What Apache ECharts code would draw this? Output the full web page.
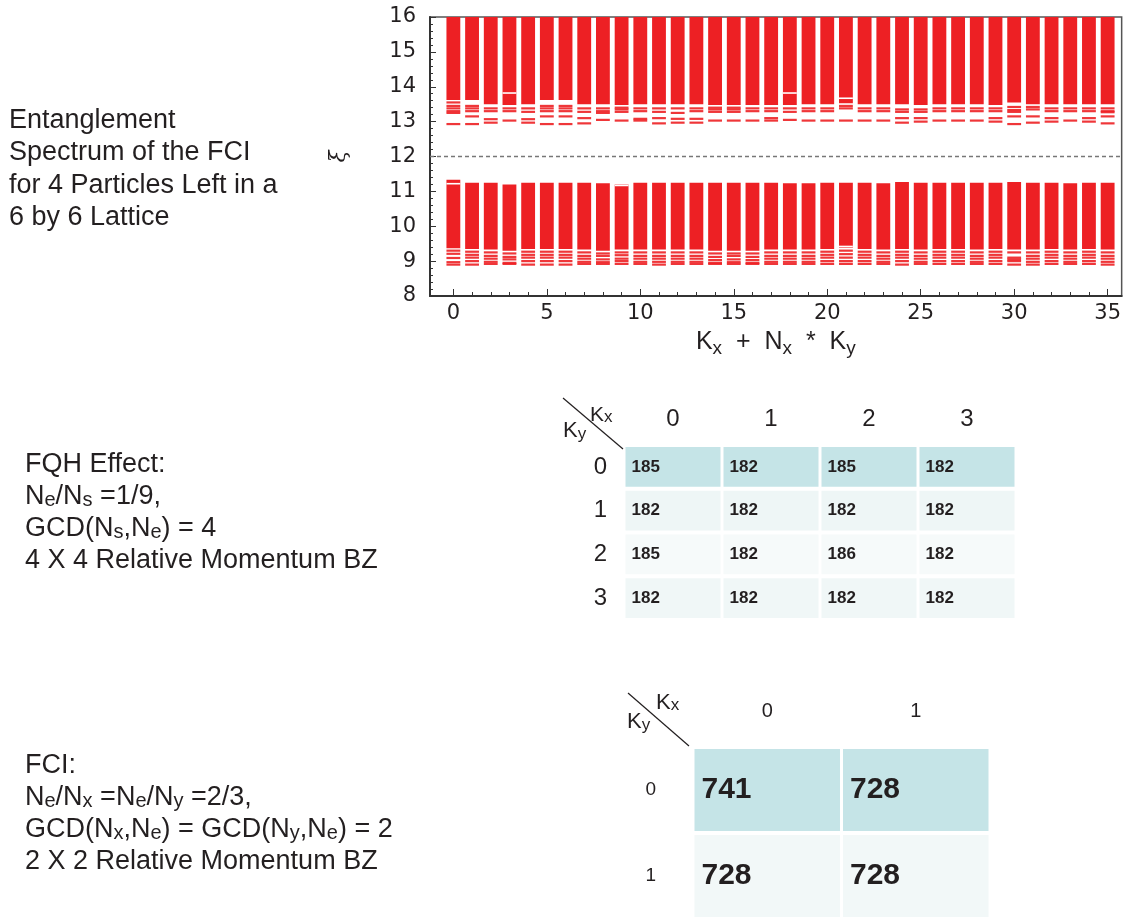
<!DOCTYPE html>
<html><head><meta charset="utf-8">
<script src="https://cdn.jsdelivr.net/npm/echarts@6/dist/echarts.min.js"></script>
<style>html,body{margin:0;padding:0;background:#fff}#c{width:1124px;height:919px}</style>
</head><body><div id="c"></div>
<script>
// ---------- Entanglement spectrum data ----------
const momentum = [0,1,2,3,4,5,6,7,8,9,10,11,12,13,14,15,16,17,18,19,20,21,22,23,24,25,26,27,28,29,30,31,32,33,34,35];
const spectrumCeiling = 16;
const upperBlockBottom = [13.62,13.62,13.5,13.48,13.5,13.62,13.62,13.5,13.5,13.48,13.5,13.5,13.5,13.5,13.48,13.48,13.48,13.48,13.48,13.5,13.5,13.53,13.5,13.5,13.5,13.48,13.5,13.5,13.5,13.48,13.55,13.5,13.5,13.5,13.5,13.5];
const upperLevels = [
  [13.55,13.45,13.38,13.3,13.25,12.93],[13.45,13.38,13.3,13.15,12.93],[13.38,13.3,13.07,12.97],[13.38,13.3,13.03],
  [13.38,13.28,13.07,12.97],[13.45,13.38,13.3,13.15,12.93],[13.45,13.38,13.3,13.15,12.93],[13.38,13.28,13.1,12.95],
  [13.38,13.3,13.25,13.05],[13.4,13.35,13.28,13.03],[13.38,13.3,13.08,13.03],[13.38,13.28,13.1,12.95],
  [13.38,13.25,13.08,12.97],[13.38,13.3,13.08,12.97],[13.4,13.35,13.28,13.03],[13.4,13.35,13.28,13.03],
  [13.38,13.3,13.03],[13.38,13.3,13.1,13.03],[13.38,13.28,13.05],[13.38,13.3,13.03],
  [13.38,13.3,13.03],[13.45,13.38,13.03],[13.38,13.3,13.03],[13.38,13.3,13.03],
  [13.35,13.28,13.1,12.97],[13.35,13.28,13.1,13.0],[13.38,13.3,13.03],[13.38,13.3,13.03],
  [13.38,13.3,13.03],[13.38,13.3,13.1,13.0],[13.42,13.33,13.28,13.15,12.93],[13.42,13.35,13.15,12.97],
  [13.38,13.3,13.1,13.0],[13.38,13.3,13.03],[13.38,13.3,13.1,13.0],[13.38,13.3,13.27,13.15,12.95]
];
const lowerBlockTop = [11.33,11.25,11.25,11.2,11.25,11.25,11.25,11.25,11.23,11.2,11.25,11.25,11.25,11.25,11.25,11.25,11.25,11.25,11.23,11.23,11.25,11.25,11.25,11.23,11.27,11.25,11.25,11.25,11.25,11.25,11.27,11.25,11.25,11.23,11.25,11.25];
const lowerBlockBottom = [9.37,9.35,9.33,9.3,9.35,9.35,9.35,9.33,9.3,9.33,9.33,9.33,9.33,9.33,9.3,9.3,9.3,9.33,9.33,9.33,9.35,9.38,9.35,9.33,9.35,9.33,9.35,9.35,9.33,9.35,9.33,9.33,9.35,9.33,9.35,9.33];
const lowerLevels = [
  [9.3,9.21,9.09,8.97,8.9],[9.27,9.18,9.1,9.0,8.9],[9.25,9.15,9.07,8.98,8.92],[9.22,9.12,9.05,8.95,8.92],
  [9.27,9.18,9.1,9.0,8.9],[9.27,9.18,9.1,9.0,8.9],[9.27,9.18,9.1,9.0,8.9],[9.25,9.15,9.07,8.98,8.92],
  [9.22,9.15,9.05,8.97,8.92],[9.25,9.17,9.07,9.0,8.92],[9.25,9.15,9.07,8.98,8.92],[9.25,9.15,9.07,8.98,8.9],
  [9.25,9.15,9.07,8.98,8.92],[9.25,9.15,9.07,8.98,8.92],[9.22,9.12,9.03,8.95,8.92],[9.22,9.15,9.05,8.97,8.92],
  [9.22,9.12,9.03,8.95,8.92],[9.25,9.15,9.07,8.98,8.92],[9.25,9.15,9.07,8.98,8.92],[9.25,9.15,9.07,8.98,8.92],
  [9.27,9.18,9.1,9.0,8.92],[9.3,9.2,9.1,9.0,8.92],[9.27,9.18,9.1,9.0,8.92],[9.25,9.15,9.07,8.98,8.92],
  [9.27,9.18,9.1,9.0,8.9],[9.25,9.15,9.07,8.98,8.92],[9.27,9.18,9.1,9.0,8.92],[9.27,9.18,9.1,9.0,8.92],
  [9.25,9.15,9.07,8.98,8.92],[9.27,9.18,9.1,9.0,8.92],[9.25,9.1,9.05,9.0,8.9],[9.25,9.15,9.07,8.98,8.9],
  [9.27,9.18,9.1,9.0,8.92],[9.25,9.15,9.07,8.98,8.92],[9.27,9.18,9.1,9.0,8.92],[9.25,9.15,9.07,8.98,8.9]
];
const blockGaps = [[3,13.82],[18,13.82],[21,13.67],[0,11.22],[9,11.17],[21,9.42]];
const gapLevel = 12;
const xTickValues = [0,1,2,3,4,5,6,7,8,9,10,11,12,13,14,15,16,17,18,19,20,21,22,23,24,25,26,27,28,29,30,31,32,33,34,35];
const xLabelValues = [0,5,10,15,20,25,30,35];

// ---------- Momentum-sector tables ----------
const fqhCols = ['0','1','2','3'];
const fqhRows = ['0','1','2','3'];
const fqhCounts = [[185,182,185,182],[182,182,182,182],[185,182,186,182],[182,182,182,182]];
const fciCols = ['0','1'];
const fciRows = ['0','1'];
const fciCounts = [[741,728],[728,728]];

// ---------- build ----------
const RED = '#ed2024';
const SANS = '"Liberation Sans", Arial, Helvetica, sans-serif';
const blockData = [];
momentum.forEach((k, i) => {
  blockData.push([k, upperBlockBottom[i], spectrumCeiling]);
  blockData.push([k, lowerBlockBottom[i], lowerBlockTop[i]]);
});
const levelData = [];
momentum.forEach((k, i) => {
  upperLevels[i].forEach(v => levelData.push([k, v]));
  lowerLevels[i].forEach(v => levelData.push([k, v]));
});
function tableData(vals) {
  const out = [];
  vals.forEach((row, r) => row.forEach((v, c) => out.push([c, r, v])));
  return out;
}
function colW(api) { return api.size([1, 0])[0] * 0.74; }

function cellRenderer(fontSize, gapX, gapY, pad, colors) {
  return function (params, api) {
    const c = api.coord([api.value(0), api.value(1)]);
    const s = api.size([1, 1]);
    const row = api.value(1);
    const x0 = c[0] - s[0] / 2 + gapX / 2, y0 = c[1] - s[1] / 2 + gapY / 2;
    return { type: 'group', children: [
      { type: 'rect', shape: { x: x0, y: y0, width: s[0] - gapX, height: s[1] - gapY }, style: { fill: colors[row] } },
      { type: 'text', style: { text: String(api.value(2)), x: x0 + pad, y: c[1], align: 'left', verticalAlign: 'middle',
        font: 'bold ' + fontSize + 'px ' + SANS, fill: '#231f20' } }
    ]};
  };
}

const chart = echarts.init(document.getElementById('c'));
const axisFont = { fontFamily: '"DejaVu Sans", sans-serif', fontSize: 21, color: '#231f20' };
const subRich = {
  k: { fontFamily: SANS, fontSize: 25, color: '#231f20', lineHeight: 32, verticalAlign: 'middle' },
  s: { fontFamily: SANS, fontSize: 19, color: '#231f20', lineHeight: 17, verticalAlign: 'bottom' }
};

chart.setOption({
  animation: false,
  backgroundColor: '#fff',
  grid: [
    { left: 430, top: 17, right: -2, height: 279, show: true, borderColor: '#555', borderWidth: 1.5, backgroundColor: 'transparent' },
    { left: 624, top: 445, width: 392, height: 175 },
    { left: 693, top: 747, width: 297, height: 180 }
  ],
  xAxis: [
    { type: 'value', gridIndex: 0, min: -1.25, max: 35.75, position: 'bottom',
      axisLine: { onZero: false, lineStyle: { color: '#333', width: 2 } },
      axisTick: { inside: true, length: 4, customValues: xTickValues, lineStyle: { color: '#333' } },
      axisLabel: Object.assign({ customValues: xLabelValues, margin: 7 }, axisFont),
      splitLine: { show: false },
      name: '{k|K}{s|x}{k|  +  N}{s|x}{k|  *  K}{s|y}', nameLocation: 'middle', nameGap: 30,
      nameTextStyle: { rich: subRich } },
    { type: 'value', gridIndex: 0, min: -1.25, max: 35.75, position: 'bottom',
      axisLine: { show: false, onZero: false },
      axisTick: { inside: true, length: 7, customValues: xLabelValues, lineStyle: { color: '#333' } },
      axisLabel: { show: false }, splitLine: { show: false } },
    { type: 'category', gridIndex: 1, data: fqhCols, position: 'top',
      axisLine: { show: false }, axisTick: { show: false },
      axisLabel: { fontFamily: SANS, fontSize: 24, color: '#231f20', margin: 14 } },
    { type: 'category', gridIndex: 2, data: fciCols, position: 'top',
      axisLine: { show: false }, axisTick: { show: false },
      axisLabel: { fontFamily: SANS, fontSize: 20, color: '#231f20', margin: 26 } }
  ],
  yAxis: [
    { type: 'value', gridIndex: 0, min: 8, max: 16, interval: 1,
      axisLine: { show: true, onZero: false, lineStyle: { color: '#333', width: 2 } },
      axisTick: { inside: true, length: 6, lineStyle: { color: '#333' } },
      minorTick: { show: true, splitNumber: 5, length: 3, lineStyle: { color: '#333' } },
      axisLabel: Object.assign({ margin: 14 }, axisFont),
      splitLine: { show: false },
      name: 'ξ', nameLocation: 'middle', nameGap: 80, nameRotate: 90,
      nameTextStyle: { fontFamily: '"DejaVu Serif", serif', fontStyle: 'italic', fontSize: 22, color: '#231f20' } },
    { type: 'category', gridIndex: 1, data: fqhRows, inverse: true,
      axisLine: { show: false }, axisTick: { show: false },
      axisLabel: { fontFamily: SANS, fontSize: 24, color: '#231f20', margin: 17 } },
    { type: 'category', gridIndex: 2, data: fciRows, inverse: true,
      axisLine: { show: false }, axisTick: { show: false },
      axisLabel: { fontFamily: SANS, fontSize: 19, color: '#231f20', margin: 37 } }
  ],
  series: [
    { type: 'custom', name: 'blocks', xAxisIndex: 0, yAxisIndex: 0, data: blockData, clip: true,
      encode: { x: 0, y: [1, 2] },
      renderItem: function (params, api) {
        const p1 = api.coord([api.value(0), api.value(2)]);
        const p2 = api.coord([api.value(0), api.value(1)]);
        const w = colW(api);
        return { type: 'rect', shape: { x: p1[0] - w / 2, y: p1[1], width: w, height: p2[1] - p1[1] }, style: { fill: RED } };
      } },
    { type: 'custom', name: 'levels', xAxisIndex: 0, yAxisIndex: 0, data: levelData, clip: true,
      encode: { x: 0, y: 1 },
      renderItem: function (params, api) {
        const p = api.coord([api.value(0), api.value(1)]);
        const w = colW(api);
        return { type: 'rect', shape: { x: p[0] - w / 2, y: p[1] - 1.1, width: w, height: 2.2 }, style: { fill: RED, opacity: 0.9 } };
      } },
    { type: 'custom', name: 'gaps', xAxisIndex: 0, yAxisIndex: 0, data: blockGaps, clip: true,
      encode: { x: 0, y: 1 },
      renderItem: function (params, api) {
        const p = api.coord([api.value(0), api.value(1)]);
        const w = colW(api);
        return { type: 'rect', shape: { x: p[0] - w / 2, y: p[1] - 0.8, width: w, height: 1.6 }, style: { fill: '#fff' } };
      } },
    { type: 'line', name: 'gapLine', xAxisIndex: 0, yAxisIndex: 0, data: [], silent: true,
      markLine: { silent: true, symbol: 'none', label: { show: false },
        lineStyle: { type: [4, 3], color: '#777', width: 1.3 }, data: [{ yAxis: gapLevel }] } },
    { type: 'custom', name: 'fqh', xAxisIndex: 2, yAxisIndex: 1, data: tableData(fqhCounts),
      encode: { x: 0, y: 1 },
      renderItem: cellRenderer(17, 3, 4, 6, ['#c5e4e7', '#eef6f6', '#f6fafa', '#f0f7f7']) },
    { type: 'custom', name: 'fci', xAxisIndex: 3, yAxisIndex: 2, data: tableData(fciCounts),
      encode: { x: 0, y: 1 },
      renderItem: cellRenderer(30, 3, 4, 7, ['#c5e4e7', '#f2f8f8']) }
  ],
  graphic: [
    { type: 'text', left: 9, top: 104, style: { text: 'Entanglement\nSpectrum of the FCI\nfor 4 Particles Left in a\n6 by 6 Lattice',
      font: '27px ' + SANS, lineHeight: 32.5, fill: '#231f20' } },
    { type: 'text', left: 25, top: 451, style: {
      text: '{t|FQH Effect:}\n{t|N}{s|e}{t|/N}{s|s}{t| =1/9,}\n{t|GCD(N}{s|s}{t|,N}{s|e}{t|) = 4}\n{t|4 X 4 Relative Momentum BZ}',
      rich: { t: { fontFamily: SANS, fontSize: 27, lineHeight: 32, verticalAlign: 'bottom', fill: '#231f20' },
              s: { fontFamily: SANS, fontSize: 20, lineHeight: 32, verticalAlign: 'bottom', fill: '#231f20' } } } },
    { type: 'text', left: 25, top: 752, style: {
      text: '{t|FCI:}\n{t|N}{s|e}{t|/N}{s|x}{t| =N}{s|e}{t|/N}{s|y}{t| =2/3,}\n{t|GCD(N}{s|x}{t|,N}{s|e}{t|) = GCD(N}{s|y}{t|,N}{s|e}{t|) = 2}\n{t|2 X 2 Relative Momentum BZ}',
      rich: { t: { fontFamily: SANS, fontSize: 27, lineHeight: 32, verticalAlign: 'bottom', fill: '#231f20' },
              s: { fontFamily: SANS, fontSize: 20, lineHeight: 32, verticalAlign: 'bottom', fill: '#231f20' } } } },
    // diagonal headers
    { type: 'line', shape: { x1: 563, y1: 398, x2: 623, y2: 449 }, style: { stroke: '#231f20', lineWidth: 1.2 } },
    { type: 'text', x: 590, y: 415, style: { text: '{k|K}{s|x}', verticalAlign: 'middle',
      rich: { k: { fontFamily: SANS, fontSize: 21, verticalAlign: 'bottom', fill: '#231f20' }, s: { fontFamily: SANS, fontSize: 17, verticalAlign: 'bottom', fill: '#231f20' } } } },
    { type: 'text', x: 563, y: 431, style: { text: '{k|K}{s|y}', verticalAlign: 'middle',
      rich: { k: { fontFamily: SANS, fontSize: 22, lineHeight: 24, verticalAlign: 'middle', fill: '#231f20' }, s: { fontFamily: SANS, fontSize: 17, lineHeight: 16, verticalAlign: 'bottom', fill: '#231f20' } } } },
    { type: 'line', shape: { x1: 628, y1: 693, x2: 689, y2: 746 }, style: { stroke: '#231f20', lineWidth: 1.2 } },
    { type: 'text', x: 656, y: 703, style: { text: '{k|K}{s|x}', verticalAlign: 'middle',
      rich: { k: { fontFamily: SANS, fontSize: 22, verticalAlign: 'bottom', fill: '#231f20' }, s: { fontFamily: SANS, fontSize: 17, verticalAlign: 'bottom', fill: '#231f20' } } } },
    { type: 'text', x: 627, y: 722, style: { text: '{k|K}{s|y}', verticalAlign: 'middle',
      rich: { k: { fontFamily: SANS, fontSize: 22, lineHeight: 24, verticalAlign: 'middle', fill: '#231f20' }, s: { fontFamily: SANS, fontSize: 17, lineHeight: 16, verticalAlign: 'bottom', fill: '#231f20' } } } }
  ]
});
</script></body></html>
